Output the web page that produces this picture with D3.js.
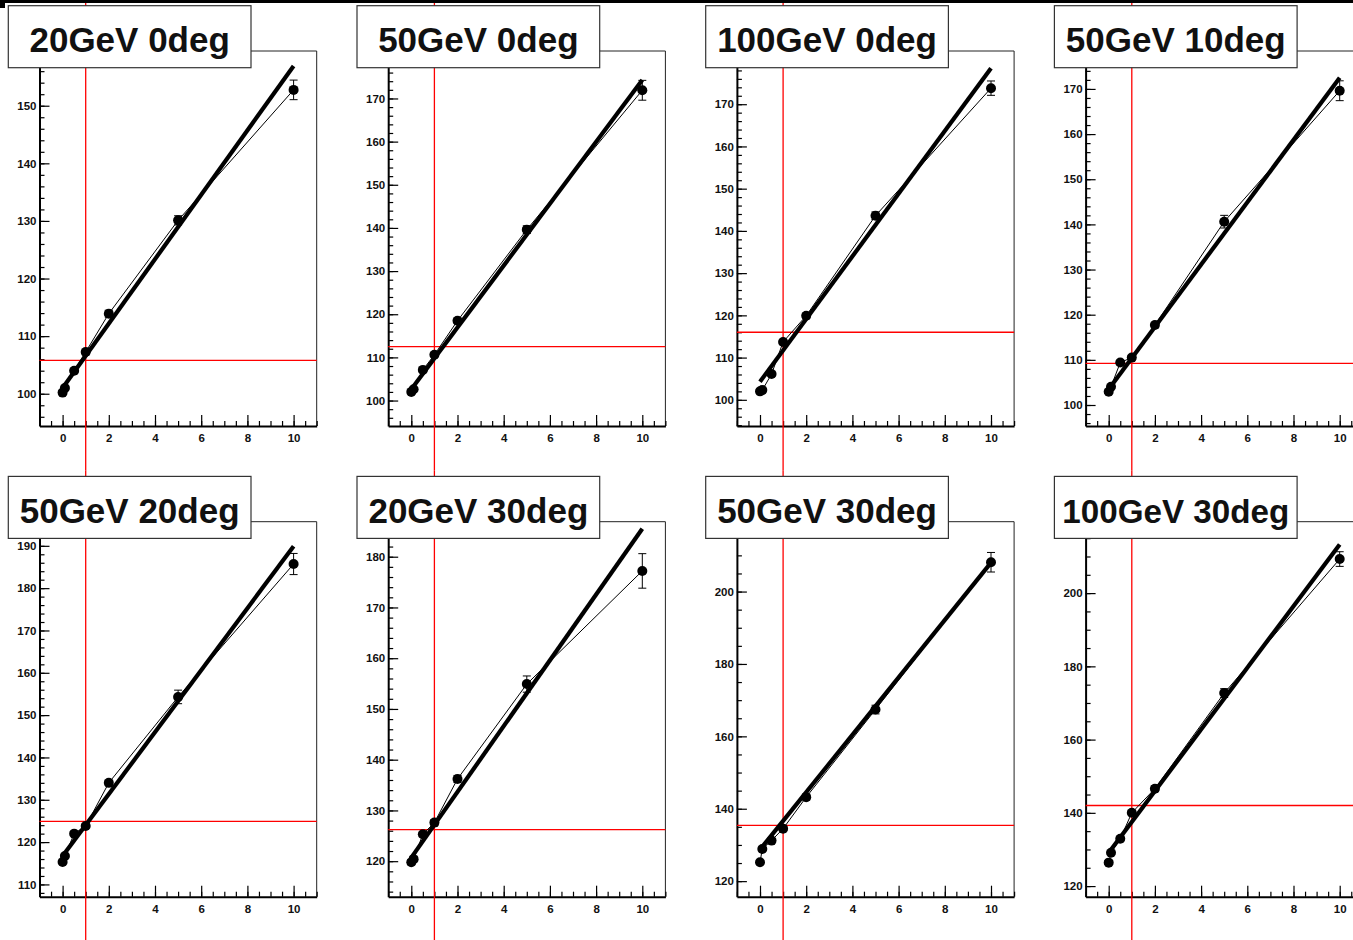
<!DOCTYPE html>
<html><head><meta charset="utf-8">
<script src="https://cdn.jsdelivr.net/npm/d3@7"></script>
<style>
html,body{margin:0;padding:0;background:#fff;}
svg{display:block;}
</style></head>
<body>
<svg id="c" width="1353" height="940"></svg>
<script>
// ---- data ----
const panelTitles = ["20GeV 0deg","50GeV 0deg","100GeV 0deg","50GeV 10deg",
                     "50GeV 20deg","20GeV 30deg","50GeV 30deg","100GeV 30deg"];
const xValues = [0, 0.1, 0.5, 1, 2, 5, 10];

const y_20GeV_0deg  = [100.2, 101.0, 104.0, 107.25, 113.9, 130.1, 152.75];
const y_50GeV_0deg  = [102.0, 102.6, 107.1, 110.6, 118.5, 139.6, 171.9];
const y_100GeV_0deg = [102.0, 102.3, 106.1, 113.7, 119.9, 143.6, 173.8];
const y_50GeV_10deg = [102.95, 104.05, 109.4, 110.5, 117.7, 140.6, 169.6];
const y_50GeV_20deg = [115.3, 116.7, 122.0, 123.8, 134.0, 154.3, 185.7];
const y_20GeV_30deg = [119.8, 120.4, 125.3, 127.6, 136.2, 154.9, 177.2];
const y_50GeV_30deg = [125.2, 128.9, 131.2, 134.5, 143.2, 167.4, 208.1];
const y_100GeV_30deg= [126.4, 129.1, 132.9, 140.0, 146.6, 172.7, 209.3];

const e_20GeV_0deg  = [0.4, 0.4, 0.4, 0.5, 0.6, 0.8, 1.7];
const e_50GeV_0deg  = [0.4, 0.4, 0.5, 0.5, 0.6, 0.9, 2.3];
const e_100GeV_0deg = [0.4, 0.4, 0.5, 0.5, 0.6, 0.9, 1.7];
const e_50GeV_10deg = [0.4, 0.4, 0.5, 0.5, 0.6, 1.4, 2.2];
const e_50GeV_20deg = [0.4, 0.4, 0.5, 0.5, 0.6, 1.6, 2.5];
const e_20GeV_30deg = [0.5, 0.5, 0.5, 0.6, 0.7, 1.6, 3.4];
const e_50GeV_30deg = [0.5, 0.5, 0.6, 0.6, 0.8, 1.2, 2.7];
const e_100GeV_30deg= [0.5, 0.5, 0.6, 0.6, 0.8, 1.2, 2.0];

// fit line value at x=0 and x=10
const fitAt0  = [101.0, 102.6, 104.3, 103.5, 116.7, 120.7, 128.7, 129.1];
const fitAt10 = [156.9, 174.3, 178.5, 172.5, 189.9, 185.5, 208.0, 213.3];
// red reference lines
const refX = 1;
const refY = [105.8, 112.5, 116.0, 109.2, 124.9, 126.2, 135.4, 142.0];

// axis ranges & tick steps
const xDomain = [-1, 11];
const xMajorTicks = [0, 2, 4, 6, 8, 10];
const yMin = [94.4, 94.1, 93.8, 95.35, 107.1, 113.0, 115.7, 117.1];
const yMax = [159.5, 181.0, 182.6, 178.4, 195.7, 186.9, 219.3, 219.5];
const yMajorStep = [10, 10, 10, 10, 10, 10, 20, 20];
const yMinorStep = [2, 2, 2, 2, 2, 2, 5, 5];

const yData = [y_20GeV_0deg, y_50GeV_0deg, y_100GeV_0deg, y_50GeV_10deg,
               y_50GeV_20deg, y_20GeV_30deg, y_50GeV_30deg, y_100GeV_30deg];
const eData = [e_20GeV_0deg, e_50GeV_0deg, e_100GeV_0deg, e_50GeV_10deg,
               e_50GeV_20deg, e_20GeV_30deg, e_50GeV_30deg, e_100GeV_30deg];

// ---- layout ----
const svg = d3.select("#c");
const FONT = "'Liberation Sans', Arial, Helvetica, sans-serif";
const padW = 348.7, padH = 470.7;

function ticksBetween(lo, hi, step) {
  const out = [];
  for (let v = Math.ceil(lo / step) * step; v <= hi + 1e-9; v += step) out.push(+v.toFixed(6));
  return out;
}

panelTitles.forEach((title, i) => {
  const col = i % 4, row = Math.floor(i / 4);
  const x0 = col * padW, y0 = row * padH;
  const L = x0 + 39.5, R = x0 + 316.7, T = y0 + 51, B = y0 + 426;
  const g = svg.append("g");

  const xs = d3.scaleLinear().domain(xDomain).range([L, R]);
  const ys = d3.scaleLinear().domain([yMin[i], yMax[i]]).range([B, T]);

  // frame top/right
  g.append("line").attr("x1", L).attr("x2", R).attr("y1", T).attr("y2", T)
    .attr("stroke", "#222").attr("stroke-width", 1);
  g.append("line").attr("x1", R).attr("x2", R).attr("y1", T).attr("y2", B)
    .attr("stroke", "#222").attr("stroke-width", 1);

  // x axis minor
  g.append("g").attr("transform", `translate(0,${B})`)
    .call(d3.axisBottom(xs).tickValues(ticksBetween(xDomain[0], xDomain[1], 0.5))
      .tickSize(-5).tickSizeOuter(0).tickFormat(""))
    .call(a => a.select(".domain").remove())
    .selectAll("line").attr("stroke", "#000").attr("stroke-width", 1.2);
  // x axis major
  const xa = g.append("g").attr("transform", `translate(0,${B})`)
    .call(d3.axisBottom(xs).tickValues(xMajorTicks).tickSize(-11).tickSizeOuter(0)
      .tickPadding(8).tickFormat(d3.format("d")));
  xa.select(".domain").attr("stroke", "#000").attr("stroke-width", 2);
  xa.selectAll("line").attr("stroke", "#000").attr("stroke-width", 1.2);
  xa.selectAll("text").attr("font-family", FONT).attr("font-weight", "bold")
    .attr("font-size", 11.5).attr("fill", "#111");

  // y axis minor
  g.append("g").attr("transform", `translate(${L},0)`)
    .call(d3.axisLeft(ys).tickValues(ticksBetween(yMin[i], yMax[i], yMinorStep[i]))
      .tickSize(-5).tickSizeOuter(0).tickFormat(""))
    .call(a => a.select(".domain").remove())
    .selectAll("line").attr("stroke", "#000").attr("stroke-width", 1.2);
  // y axis major (labels hidden under the title box are not drawn)
  const boxBottom = y0 + 67.7;
  const yMajors = ticksBetween(yMin[i], yMax[i], yMajorStep[i]).filter(v => ys(v) > boxBottom + 6);
  const ya = g.append("g").attr("transform", `translate(${L},0)`)
    .call(d3.axisLeft(ys).tickValues(yMajors)
      .tickSize(-10).tickSizeOuter(0).tickPadding(3).tickFormat(d3.format("d")));
  ya.select(".domain").attr("stroke", "#000").attr("stroke-width", 2);
  ya.selectAll("line").attr("stroke", "#000").attr("stroke-width", 1.2);
  ya.selectAll("text").attr("font-family", FONT).attr("font-weight", "bold")
    .attr("font-size", 11.5).attr("fill", "#111");

  // red reference lines
  g.append("line").attr("x1", L).attr("x2", R).attr("y1", ys(refY[i])).attr("y2", ys(refY[i]))
    .attr("stroke", "#ff0000").attr("stroke-width", 1.3);
  g.append("line").attr("x1", xs(refX)).attr("x2", xs(refX)).attr("y1", y0).attr("y2", y0 + padH)
    .attr("stroke", "#ff0000").attr("stroke-width", 1.3);

  const pts = xValues.map((x, k) => ({ x, y: yData[i][k], e: eData[i][k] }));

  // fit line (thick)
  const fitPts = [{ x: 0, y: fitAt0[i] }, { x: 10, y: fitAt10[i] }];
  g.append("path").datum(fitPts)
    .attr("d", d3.line().x(d => xs(d.x)).y(d => ys(d.y)))
    .attr("fill", "none").attr("stroke", "#000").attr("stroke-width", 4.2);

  // connecting thin line
  g.append("path").datum(pts)
    .attr("d", d3.line().x(d => xs(d.x)).y(d => ys(d.y)))
    .attr("fill", "none").attr("stroke", "#000").attr("stroke-width", 1);

  // error bars
  const eb = g.append("g").selectAll("g").data(pts).join("g");
  eb.append("line").attr("x1", d => xs(d.x)).attr("x2", d => xs(d.x))
    .attr("y1", d => ys(d.y - d.e)).attr("y2", d => ys(d.y + d.e))
    .attr("stroke", "#000").attr("stroke-width", 1);
  eb.append("line").attr("x1", d => xs(d.x) - 4).attr("x2", d => xs(d.x) + 4)
    .attr("y1", d => ys(d.y - d.e)).attr("y2", d => ys(d.y - d.e))
    .attr("stroke", "#000").attr("stroke-width", 1);
  eb.append("line").attr("x1", d => xs(d.x) - 4).attr("x2", d => xs(d.x) + 4)
    .attr("y1", d => ys(d.y + d.e)).attr("y2", d => ys(d.y + d.e))
    .attr("stroke", "#000").attr("stroke-width", 1);

  // markers
  g.append("g").selectAll("circle").data(pts).join("circle")
    .attr("cx", d => xs(d.x)).attr("cy", d => ys(d.y)).attr("r", 5).attr("fill", "#000");

  // title box
  const bx = x0 + 8.3, by = y0 + 5.7, bw = 242.7, bh = 62;
  g.append("rect").attr("x", bx).attr("y", by).attr("width", bw).attr("height", bh)
    .attr("fill", "#fff").attr("stroke", "#333").attr("stroke-width", 1.2);
  const t = g.append("text").attr("x", bx + bw / 2).attr("y", y0 + 52)
    .attr("text-anchor", "middle").attr("font-family", FONT).attr("font-weight", "bold")
    .attr("font-size", 35).attr("fill", "#111").text(title);
  const w = t.node().getComputedTextLength();
  const maxW = 227;
  if (w > maxW) t.attr("font-size", 35 * maxW / w);
});

// top black bar of the canvas
svg.append("rect").attr("x", 0).attr("y", 0).attr("width", 1353).attr("height", 3).attr("fill", "#000");
svg.append("rect").attr("x", 0).attr("y", 0).attr("width", 5).attr("height", 8).attr("fill", "#000");
</script>
</body></html>
